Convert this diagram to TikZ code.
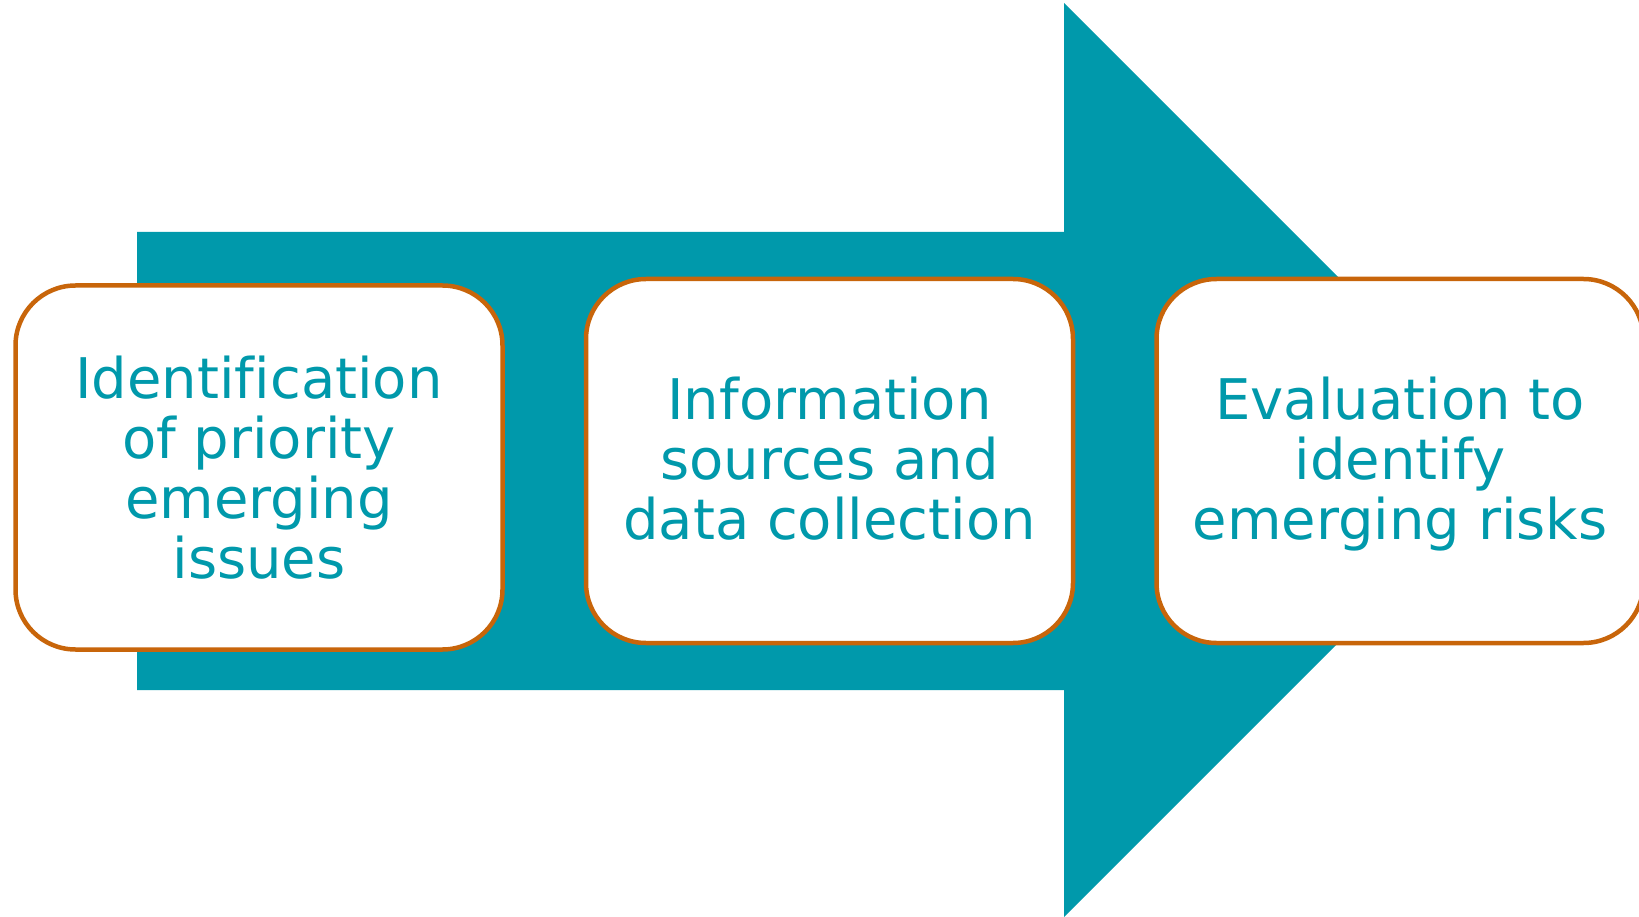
\documentclass[tikz,border=0pt]{standalone}
\usepackage{fontspec}
\setmainfont[Ligatures={NoCommon}]{DejaVu Sans}
\definecolor{teal}{HTML}{0099AB}
\definecolor{rust}{HTML}{C8650A}
\newcommand{\toppad}{\rule{0pt}{48.5pt}}
\begin{document}
\begin{tikzpicture}[x=1pt,y=-1pt,
  stage/.style={draw=rust, line width=4.5pt, fill=white, rounded corners=60pt,
    minimum width=487pt, minimum height=364pt, align=center, text=teal,
    font=\fontsize{56}{60}\selectfont, inner sep=0pt}]
\clip (0,0) rectangle (1639,917);
\useasboundingbox (0,0) rectangle (1639,917);
\fill[teal] (137,232) -- (1064,232) -- (1064,3) -- (1521,460) -- (1064,917)
  -- (1064,690) -- (137,690) -- cycle;
\node[stage] (b1) at (259,467.5) {Identification\\of priority\\emerging\\issues};
\node[stage] (b2) at (829.5,461) {\toppad Information\\sources and\\data collection\vphantom{g}};
\node[stage] (b3) at (1400,461) {\toppad Evaluation to\\identify\\emerging risks};
\end{tikzpicture}
\end{document}
